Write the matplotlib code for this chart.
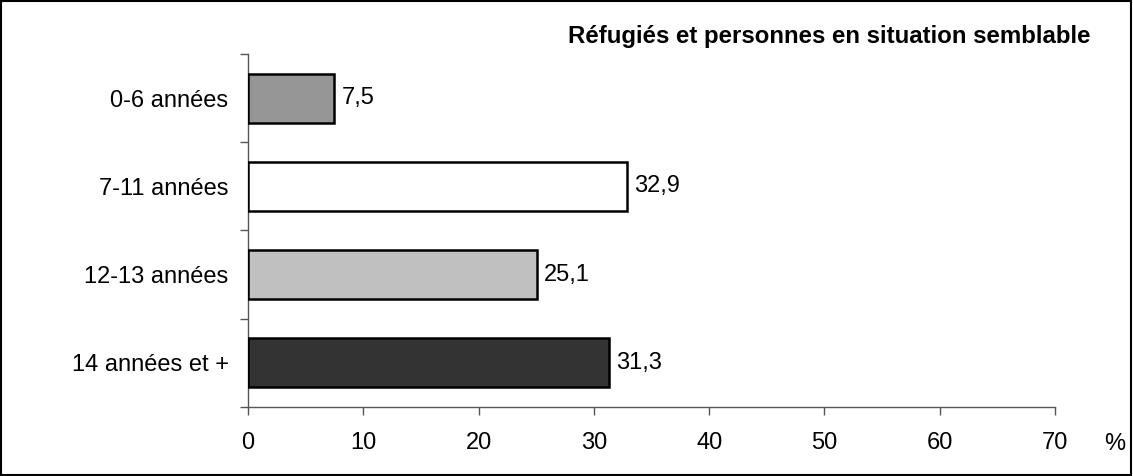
import matplotlib.pyplot as plt
from matplotlib.patches import Rectangle

plt.rcParams["font.family"] = ["Liberation Sans", "DejaVu Sans"]

categories = ["0-6 années", "7-11 années", "12-13 années", "14 années et +"]
values = [7.5, 32.9, 25.1, 31.3]
bar_colors = ["#969696", "#ffffff", "#c0c0c0", "#333333"]
x_ticks = [0, 10, 20, 30, 40, 50, 60, 70]
title = "Réfugiés et personnes en situation semblable"

FS = 17

fig = plt.figure(figsize=(11.33, 4.76), dpi=100)
ax = fig.add_axes([248 / 1133, 1 - 407 / 476, 807 / 1133, 353 / 476])

ypos = list(range(len(categories)))
ax.barh(ypos, values, height=0.555, color=bar_colors, edgecolor="black", linewidth=1.8, zorder=3)

for y, v in zip(ypos, values):
    ax.text(v + 0.6, y, f"{v:.1f}".replace(".", ","), va="center", ha="left", fontsize=FS)

ax.set_xlim(0, 70)
ax.set_ylim(len(categories) - 0.5, -0.5)
ax.set_xticks(x_ticks)
ax.set_xticklabels([str(t) for t in x_ticks], fontsize=FS)
ax.set_yticks([y - 0.5 for y in range(len(categories) + 1)], minor=False)
ax.set_yticklabels([])
ax.set_yticks(ypos, minor=True)
ax.set_yticklabels(categories, minor=True, fontsize=FS)
ax.tick_params(axis="y", which="major", direction="out", length=6, width=1, color="#555555")
ax.tick_params(axis="y", which="minor", length=0, pad=14)
ax.tick_params(axis="x", direction="out", length=6, width=1, color="#555555", pad=12)

for side in ["top", "right"]:
    ax.spines[side].set_visible(False)
for side in ["left", "bottom"]:
    ax.spines[side].set_color("#555555")
    ax.spines[side].set_linewidth(1)

fig.text(1115 / 1133, 1 - 444 / 476, "%", fontsize=FS, ha="center", va="center")
fig.text(1090 / 1133, 1 - 37 / 476, title, fontsize=17.3, fontweight="bold", ha="right", va="center")

fig.patches.append(Rectangle((0.001, 0.002), 0.997, 0.995, transform=fig.transFigure,
                             fill=False, edgecolor="black", linewidth=1.5))

fig.savefig("out.png", dpi=100)
